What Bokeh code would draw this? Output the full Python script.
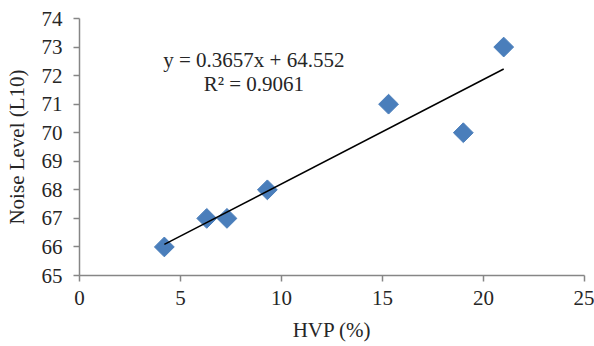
from bokeh.plotting import figure
from bokeh.models import Range1d, FixedTicker, ColumnDataSource, Label
from bokeh.embed import file_html
from bokeh.resources import INLINE
import numpy as np

hvp = [4.2, 6.3, 7.3, 9.3, 15.3, 19.0, 21.0]
noise = [66, 67, 67, 68, 71, 70, 73]
slope = 0.3657
intercept = 64.552
r2 = 0.9061
x_ticks = [0, 5, 10, 15, 20, 25]
y_ticks = [65, 66, 67, 68, 69, 70, 71, 72, 73, 74]

FONT = "Liberation Serif"
AX = "#868686"

p = figure(width=594, height=346, output_backend="svg", toolbar_location=None,
           x_range=Range1d(0, 25), y_range=Range1d(65, 74),
           min_border_left=79, min_border_right=10, min_border_top=18, min_border_bottom=71)
p.outline_line_color = None
p.xgrid.visible = False
p.ygrid.visible = False
p.background_fill_color = "white"
p.border_fill_color = "white"

for ax in (p.xaxis[0], p.yaxis[0]):
    ax.axis_line_color = AX
    ax.axis_line_width = 1.5
    ax.major_tick_line_color = AX
    ax.major_tick_line_width = 1.5
    ax.major_tick_in = 0
    ax.major_tick_out = 6
    ax.minor_tick_line_color = None
    ax.major_label_text_font = FONT
    ax.major_label_text_font_size = "21px"
    ax.major_label_text_color = "#262626"
    ax.axis_label_text_font = FONT
    ax.axis_label_text_font_size = "21px"
    ax.axis_label_text_font_style = "normal"
    ax.axis_label_text_color = "#262626"

p.xaxis.ticker = FixedTicker(ticks=x_ticks)
p.yaxis.ticker = FixedTicker(ticks=y_ticks)
p.xaxis.axis_label = "HVP (%)"
p.yaxis.axis_label = "Noise Level (L10)"
p.xaxis.major_label_standoff = 9
p.yaxis.major_label_standoff = 11
p.xaxis.axis_label_standoff = 10
p.yaxis.axis_label_standoff = 10

src = ColumnDataSource(dict(x=hvp, y=noise))
p.scatter("x", "y", source=src, marker="square", size=14, angle=np.pi / 4,
          fill_color="#4A7EBB", line_color="#4A7EBB")

xl = [min(hvp), max(hvp)]
yl = [slope * v + intercept for v in xl]
p.line(xl, yl, line_color="black", line_width=1.5)

p.add_layout(Label(x=8.63, y=72.55, text=f"y = {slope}x + {intercept}", text_font=FONT,
                   text_font_size="21px", text_align="center", text_baseline="middle",
                   text_color="#262626"))
p.add_layout(Label(x=8.63, y=71.72, text=f"R² = {r2}", text_font=FONT,
                   text_font_size="21px", text_align="center", text_baseline="middle",
                   text_color="#262626"))

open("out.html", "w").write(file_html(p, INLINE))
